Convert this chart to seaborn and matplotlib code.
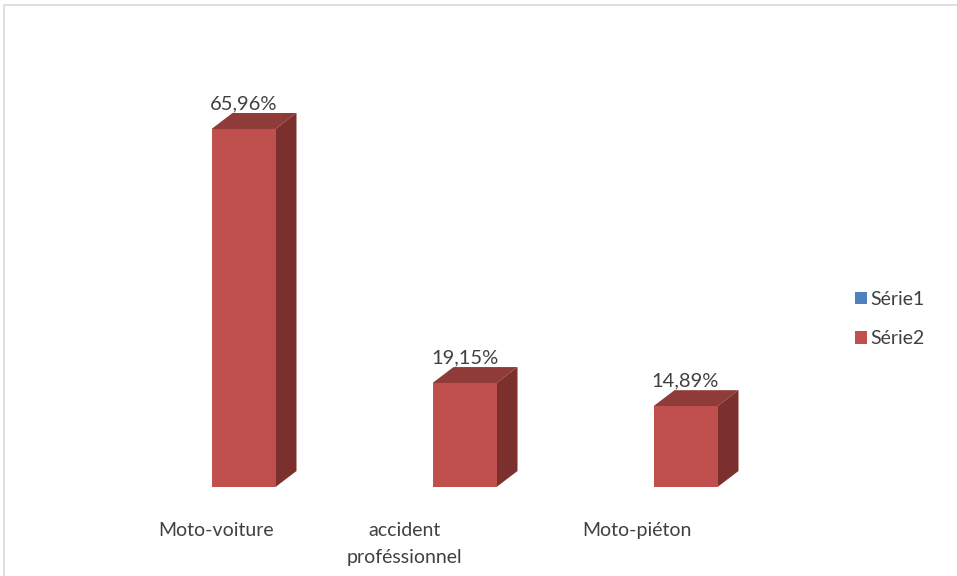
import matplotlib
matplotlib.use("Agg")
import matplotlib.pyplot as plt
import matplotlib.transforms as mtransforms
from matplotlib.patches import Polygon, Patch
from matplotlib.lines import Line2D
import seaborn as sns
import pandas as pd

# Chart data
categories = ["Moto-voiture", "accident\nproféssionnel", "Moto-piéton"]
serie2_values = [65.96, 19.15, 14.89]
value_labels = ["65,96%", "19,15%", "14,89%"]
legend_labels = ["Série1", "Série2"]

# Colours (Office palette)
FRONT = "#C0504D"
TOP = "#8F3B39"
SIDE = "#7B302E"
SERIE1 = "#4F81BD"
TEXT = "#404040"

sns.set_theme(style="white")
plt.rcParams["font.family"] = ["Lato", "DejaVu Sans"]

W, H = 957, 576
fig = plt.figure(figsize=(W / 100, H / 100), dpi=100)

# Axes laid out in pixel terms
ax_left, ax_right, ax_top, ax_bottom = 100, 800, 60, 487
ax = fig.add_axes([ax_left / W, (H - ax_bottom) / H,
                   (ax_right - ax_left) / W, (ax_bottom - ax_top) / H])

cat_step_px = 221.0
px_per_unit = 358.0 / 65.96
x0 = (ax_left - 243.5) / cat_step_px
ax.set_ylim(0, (ax_bottom - ax_top) / px_per_unit)

df = pd.DataFrame({"cat": categories, "val": serie2_values})
bar_w = 64 / cat_step_px
sns.barplot(data=df, x="cat", y="val", color=FRONT, width=bar_w,
            saturation=1, ax=ax, zorder=3, linewidth=0)
ax.set_xlim(x0, x0 + (ax_right - ax_left) / cat_step_px)

# 3D depth of each column: top and right faces
dx = 21 / cat_step_px
dy = 16 / px_per_unit
for i, h in enumerate(serie2_values):
    l, r = i - bar_w / 2, i + bar_w / 2
    ax.add_patch(Polygon([(l, h), (r, h), (r + dx, h + dy), (l + dx, h + dy)],
                         closed=True, facecolor=TOP, edgecolor="none", zorder=2))
    ax.add_patch(Polygon([(r, 0), (r, h), (r + dx, h + dy), (r + dx, dy)],
                         closed=True, facecolor=SIDE, edgecolor="none", zorder=2))
    ax.annotate(value_labels[i], xy=(i, h), xytext=(0, 12), textcoords="offset points",
                ha="center", va="bottom", fontsize=14.5, color=TEXT)

for s in ax.spines.values():
    s.set_visible(False)
ax.set_yticks([])
ax.set_xlabel("")
ax.set_ylabel("")
ax.tick_params(axis="x", length=0, pad=25, labelsize=14, labelcolor=TEXT)
ax.set_xticks(range(len(categories)))
ax.set_xticklabels(categories, linespacing=1.75)
ax.patch.set_alpha(0)

# Category labels sit left of the columns (perspective floor)
label_shift_px = [-27, -60, -49]
for lab, s in zip(ax.get_xticklabels(), label_shift_px):
    lab.set_transform(lab.get_transform() +
                      mtransforms.ScaledTranslation(s / 100, 0, fig.dpi_scale_trans))
    lab.set_verticalalignment("top")

# Legend
handles = [Patch(facecolor=SERIE1, edgecolor="none"),
           Patch(facecolor=FRONT, edgecolor="none")]
fig.legend(handles, legend_labels, loc="center left",
           bbox_to_anchor=(837 / W, 1 - 319 / H), frameon=False,
           fontsize=14, labelcolor=TEXT, handlelength=0.62, handleheight=0.62,
           handletextpad=0.2, labelspacing=1.15)

# Chart area border (top and left edges visible)
fig.add_artist(Line2D([3.5 / W, 3.5 / W, 1.0], [0.0, 1 - 4.5 / H, 1 - 4.5 / H],
                      transform=fig.transFigure, color="#D9D9D9", linewidth=1.2))

fig.savefig("out.png", dpi=100)
